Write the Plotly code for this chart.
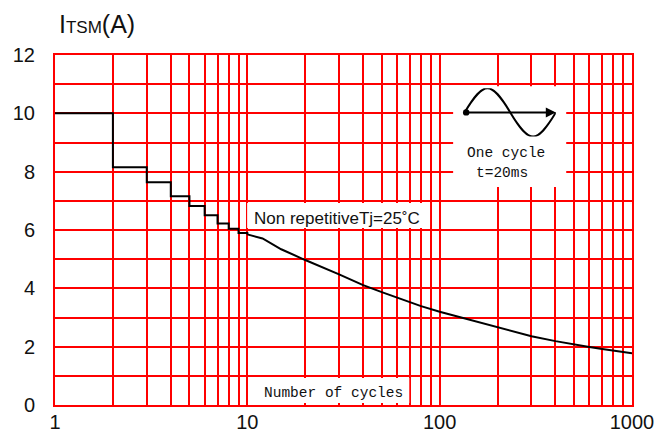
import plotly.graph_objects as go

# ---- data ----
step_cycles = [1, 2, 3, 4, 5, 6, 7, 8, 9, 10]
step_current = [10.0, 8.15, 7.64, 7.16, 6.82, 6.51, 6.22, 6.04, 5.90, 5.85]

decay_cycles = [10, 11, 12, 15, 20, 30, 40, 50, 60, 70, 80, 100, 150, 200,
                300, 400, 500, 600, 700, 800, 1000]
decay_current = [5.85, 5.78, 5.71, 5.34, 4.97, 4.48, 4.11, 3.87, 3.68, 3.53,
                 3.39, 3.20, 2.89, 2.65, 2.36, 2.19, 2.07, 1.99, 1.92, 1.87, 1.77]

x_tickvals = [1, 2, 3, 4, 5, 6, 7, 8, 9, 10, 20, 30, 40, 50, 60, 70, 80, 90,
              100, 200, 300, 400, 500, 600, 700, 800, 900, 1000]
x_ticktext = ["1", "", "", "", "", "", "", "", "", "10", "", "", "", "", "", "",
              "", "", "100", "", "", "", "", "", "", "", "", "1000"]
y_tickvals = [0, 2, 4, 6, 8, 10, 12]

RED = "#ff0000"
TICKFONT = dict(family="Liberation Sans, Arial, sans-serif", size=20, color="#111111")
MONO = dict(family="Liberation Mono, DejaVu Sans Mono, monospace", size=14.5, color="#111111")

fig = go.Figure()
fig.add_trace(go.Scatter(x=step_cycles, y=step_current, mode="lines",
                         line=dict(color="black", width=2, shape="hv"),
                         showlegend=False, hoverinfo="skip"))
fig.add_trace(go.Scatter(x=decay_cycles, y=decay_current, mode="lines",
                         line=dict(color="black", width=2),
                         showlegend=False, hoverinfo="skip"))
# invisible trace to activate inset axes
fig.add_trace(go.Scatter(x=[0, 4], y=[-1, 1], mode="markers", marker=dict(opacity=0),
                         xaxis="x2", yaxis="y2", showlegend=False, hoverinfo="skip"))

# the page body has an 8px default margin, so the figure is sized/offset to compensate
fig.update_layout(
    width=656, height=427,
    margin=dict(l=47, r=32, t=47, b=30),
    paper_bgcolor="white", plot_bgcolor="white",
    xaxis=dict(type="log", range=[0, 3], tickvals=x_tickvals, ticktext=x_ticktext,
               showgrid=True, gridcolor=RED, gridwidth=2, automargin=False,
               showline=True, linecolor=RED, linewidth=2, mirror=True,
               ticks="", tickfont=TICKFONT, zeroline=False, ticklabelstandoff=-2),
    yaxis=dict(range=[0, 12], tickvals=y_tickvals, automargin=False,
               showgrid=True, gridcolor=RED, gridwidth=2,
               minor=dict(dtick=1, showgrid=True, gridcolor=RED, gridwidth=2),
               showline=True, linecolor=RED, linewidth=2, mirror=True,
               ticks="", tickfont=TICKFONT, zeroline=False, ticklabelstandoff=14),
    xaxis2=dict(domain=[0.710, 0.868], range=[0, 4], visible=False, anchor="y2"),
    yaxis2=dict(domain=[0.767, 0.905], range=[-1, 1], visible=False, anchor="x2"),
)

shapes = [
    # white label boxes
    dict(type="rect", xref="paper", yref="paper", x0=0.333, x1=0.650, y0=0.506, y1=0.577,
         fillcolor="white", line=dict(width=0), layer="above"),
    dict(type="rect", xref="paper", yref="paper", x0=0.335, x1=0.614, y0=0.006, y1=0.077,
         fillcolor="white", line=dict(width=0), layer="above"),
    dict(type="rect", xref="paper", yref="paper", x0=0.690, x1=0.886, y0=0.623, y1=0.911,
         fillcolor="white", line=dict(width=0), layer="above"),
    # sine icon
    dict(type="path", xref="x2", yref="y2",
         path="M0,0 C0.849,1.333 1.151,1.333 2,0 C2.849,-1.333 3.151,-1.333 4,0",
         line=dict(color="black", width=2), layer="above"),
]
fig.update_layout(shapes=shapes)

annotations = [
    dict(xref="x2", yref="y2", axref="x2", ayref="y2", x=4, y=0, ax=0, ay=0,
         text="", showarrow=True, arrowhead=2, arrowsize=1, arrowwidth=2,
         arrowcolor="black", arrowside="end+start", startarrowhead=6, startarrowsize=0.8),
    dict(xref="paper", yref="paper", x=0.781, y=0.721, text="One cycle",
         showarrow=False, font=MONO, xanchor="center", yanchor="middle"),
    dict(xref="paper", yref="paper", x=0.774, y=0.662, text="t=20ms",
         showarrow=False, font=MONO, xanchor="center", yanchor="middle"),
    dict(xref="paper", yref="paper", x=0.489, y=0.533, text="Non repetitiveTj=25˚C",
         showarrow=False, font=dict(family="Liberation Sans, Arial, sans-serif", size=17, color="#111111"),
         xanchor="center", yanchor="middle"),
    dict(xref="paper", yref="paper", x=0.483, y=0.035, text="Number of cycles",
         showarrow=False, font=MONO, xanchor="center", yanchor="middle"),
    dict(xref="paper", yref="paper", x=0.003, y=1.089,
         text="I<span style='font-size:17px'>TSM</span>(A)",
         showarrow=False, font=dict(family="Liberation Sans, Arial, sans-serif", size=25, color="#111111"),
         xanchor="left", yanchor="middle"),
]
fig.update_layout(annotations=annotations)

fig.write_html("out.html")
